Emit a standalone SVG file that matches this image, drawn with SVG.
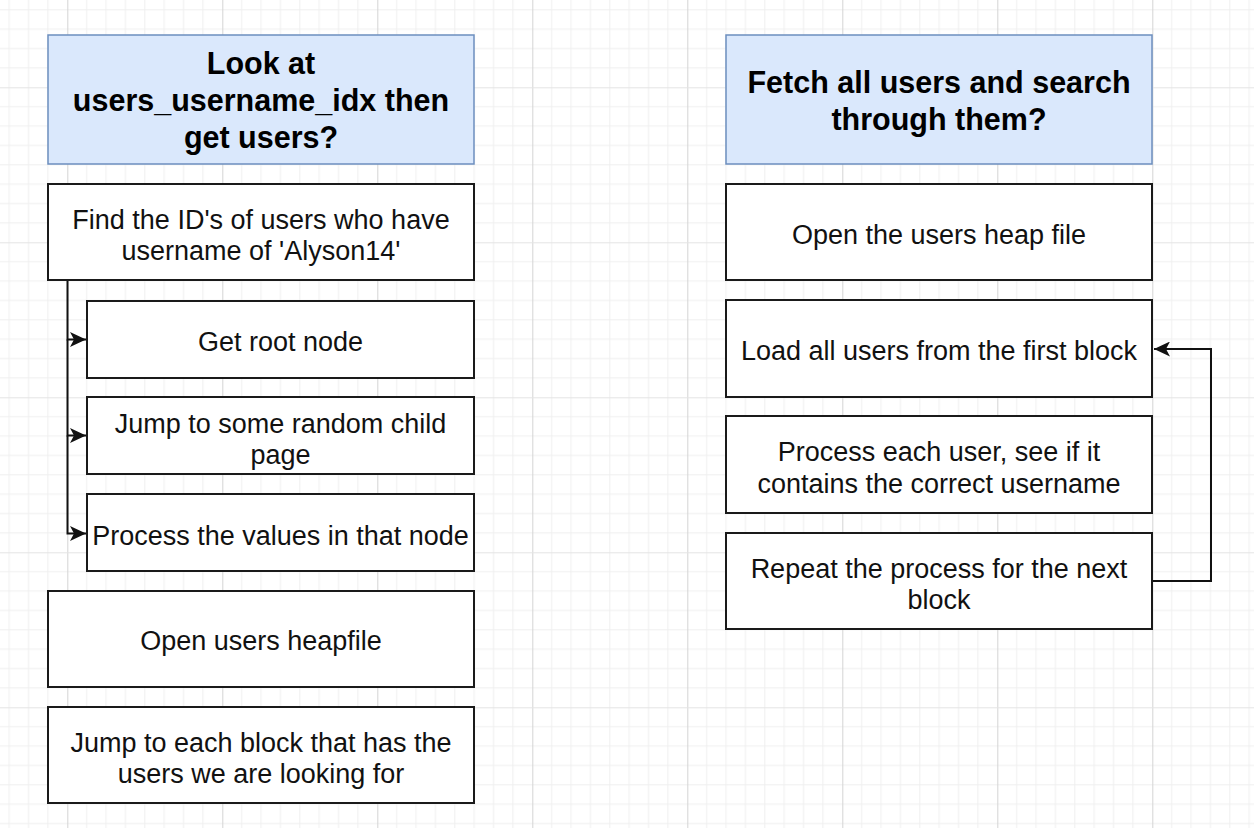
<svg xmlns="http://www.w3.org/2000/svg" width="1254" height="828" viewBox="0 0 1254 828">
<defs>
<pattern id="grid" patternUnits="userSpaceOnUse" x="67.3" y="87.3" width="155" height="155">
<path d="M19.375 0V155M38.75 0V155M58.125 0V155M77.5 0V155M96.875 0V155M116.25 0V155M135.625 0V155M0 19.375H155M0 38.75H155M0 58.125H155M0 77.5H155M0 96.875H155M0 116.25H155M0 135.625H155" stroke="#efefef" stroke-width="1" fill="none"/>
<path d="M0.5 0V155" stroke="#d4d4d4" stroke-width="1" fill="none"/>
<path d="M0 0.5H155" stroke="#e4e4e4" stroke-width="1" fill="none"/>
</pattern>
<marker id="arr" markerWidth="17" markerHeight="15" refX="16" refY="7.5" orient="auto" markerUnits="userSpaceOnUse">
<path d="M0,0 L16,7.5 L0,15 L4,7.5 Z" fill="#111"/>
</marker>
<style>
.hdr{fill:#dae8fc;stroke:#6c8ebf;stroke-width:1.5}
.box{fill:#fff;stroke:#1a1a1a;stroke-width:2}
.t{font-family:"Liberation Sans",Arial,sans-serif;font-size:27px;fill:#111;text-anchor:middle}
.h{font-family:"Liberation Sans",Arial,sans-serif;font-size:30.5px;font-weight:bold;fill:#000;text-anchor:middle}
.c{fill:none;stroke:#111;stroke-width:2}
</style>
</defs>
<rect width="1254" height="828" fill="#fff"/>
<rect width="1254" height="828" fill="url(#grid)"/>

<g id="left-header">
<rect class="hdr" x="48" y="35" width="426" height="129"/>
<text class="h" x="261" y="74">Look at</text>
<text class="h" x="261" y="111">users_username_idx then</text>
<text class="h" x="261" y="148">get users?</text>
</g>
<g id="find-ids">
<rect class="box" x="48" y="184" width="426" height="96"/>
<text class="t" x="261" y="229">Find the ID's of users who have</text>
<text class="t" x="261" y="260">username of 'Alyson14'</text>
</g>
<g id="get-root">
<rect class="box" x="87" y="301" width="387" height="77"/>
<text class="t" x="280.5" y="351">Get root node</text>
</g>
<g id="jump-child">
<rect class="box" x="87" y="397" width="387" height="77"/>
<text class="t" x="280.5" y="433">Jump to some random child</text>
<text class="t" x="280.5" y="464">page</text>
</g>
<g id="process-values">
<rect class="box" x="87" y="494" width="387" height="77"/>
<text class="t" x="280.5" y="545">Process the values in that node</text>
</g>
<g id="open-heapfile">
<rect class="box" x="48" y="591" width="426" height="96"/>
<text class="t" x="261" y="650">Open users heapfile</text>
</g>
<g id="jump-block">
<rect class="box" x="48" y="707" width="426" height="96"/>
<text class="t" x="261" y="752">Jump to each block that has the</text>
<text class="t" x="261" y="783">users we are looking for</text>
</g>

<g id="right-header">
<rect class="hdr" x="726" y="35" width="426" height="129"/>
<text class="h" x="939" y="93">Fetch all users and search</text>
<text class="h" x="939" y="130">through them?</text>
</g>
<g id="open-heap">
<rect class="box" x="726" y="184" width="426" height="96"/>
<text class="t" x="939" y="244">Open the users heap file</text>
</g>
<g id="load-users">
<rect class="box" x="726" y="300" width="426" height="97"/>
<text class="t" x="939" y="360">Load all users from the first block</text>
</g>
<g id="process-user">
<rect class="box" x="726" y="416" width="426" height="97"/>
<text class="t" x="939" y="461">Process each user, see if it</text>
<text class="t" x="939" y="493">contains the correct username</text>
</g>
<g id="repeat">
<rect class="box" x="726" y="533" width="426" height="96"/>
<text class="t" x="939" y="578">Repeat the process for the next</text>
<text class="t" x="939" y="609">block</text>
</g>

<g id="connectors">
<path class="c" d="M67.5 281V339.5H86" marker-end="url(#arr)"/>
<path class="c" d="M67.5 339.5V435.5H86" marker-end="url(#arr)"/>
<path class="c" d="M67.5 435.5V533.5H86" marker-end="url(#arr)"/>
<path class="c" d="M1153 581H1211V349H1154" marker-end="url(#arr)"/>
</g>
</svg>
